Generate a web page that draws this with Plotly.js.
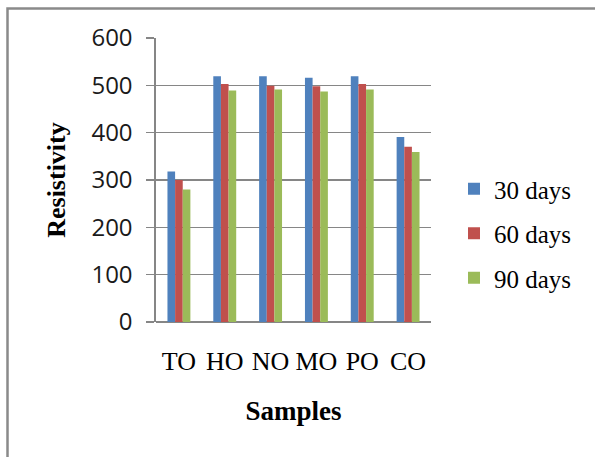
<!DOCTYPE html>
<html>
<head>
<meta charset="utf-8">
<script src="https://cdn.plot.ly/plotly-3.0.1.min.js"></script>
<style>
  html, body { margin: 0; padding: 0; background: #ffffff; }
  #chart { width: 595px; height: 457px; }
</style>
</head>
<body>
<div id="chart"></div>
<script>
const samples = ["TO", "HO", "NO", "MO", "PO", "CO"];
const days30 = [318, 519, 519, 516, 519, 391];
const days60 = [300, 503, 499, 498, 503, 370];
const days90 = [280, 489, 491, 487, 491, 359];
const seriesNames = ["30 days", "60 days", "90 days"];
const seriesColors = ["#4F81BD", "#C0504D", "#9BBB59"];
const yTicks = [0, 100, 200, 300, 400, 500, 600];

const W = 595, H = 457;
const M = { l: 156, r: 164, t: 38, b: 135 };
const pw = W - M.l - M.r, ph = H - M.t - M.b;
const px2x = p => (p - M.l) / pw;
const px2y = p => (H - M.b - p) / ph;

const vals = [days30, days60, days90];
const traces = vals.map((v, i) => ({
  type: "bar",
  x: samples,
  y: v,
  name: seriesNames[i],
  legendgroup: "g" + i,
  marker: { color: seriesColors[i], line: { width: 0 } },
  hoverinfo: "x+y+name"
}));

const layout = {
  width: W, height: H,
  margin: M,
  paper_bgcolor: "#ffffff",
  plot_bgcolor: "#ffffff",
  barmode: "group",
  bargap: 0.5,
  bargroupgap: 0,
  showlegend: true,
  legend: {
    xref: "container", yref: "container",
    x: 454 / W, y: 1 - 166 / H,
    xanchor: "left", yanchor: "top",
    font: { family: "Liberation Serif, Times New Roman, serif", size: 25, color: "#000" },
    tracegroupgap: 9,
    bgcolor: "rgba(0,0,0,0)"
  },
  xaxis: {
    type: "category",
    showgrid: false,
    showline: false,
    ticks: "",
    tickfont: { family: "Liberation Serif, Times New Roman, serif", size: 26, color: "#000" },
    ticklabelstandoff: 21,
    title: {
      text: "Samples",
      font: { family: "Liberation Serif, Times New Roman, serif", size: 27, color: "#000", weight: "bold" },
      standoff: 26
    },
    fixedrange: true
  },
  yaxis: {
    range: [0, 600],
    tickvals: yTicks,
    showgrid: true,
    gridcolor: "#868686",
    gridwidth: 1.6,
    zeroline: true,
    zerolinecolor: "#868686",
    zerolinewidth: 1.6,
    showline: true,
    linecolor: "#868686",
    linewidth: 1.6,
    ticks: "outside",
    ticklen: 8,
    tickcolor: "#868686",
    tickwidth: 1.6,
    tickfont: { family: "Open Sans, sans-serif", size: 24, color: "#1a1a1a" },
    ticklabelstandoff: 9,
    title: {
      text: "Resistivity",
      font: { family: "Liberation Serif, Times New Roman, serif", size: 26, color: "#000", weight: "bold" },
      standoff: 18
    },
    fixedrange: true
  },
  shapes: [{
    type: "rect", xref: "paper", yref: "paper",
    x0: px2x(7.5), x1: px2x(W + 5),
    y0: px2y(H + 5), y1: px2y(8.5),
    line: { color: "#8a8a8a", width: 2.5 },
    fillcolor: "rgba(0,0,0,0)",
    layer: "below"
  }]
};

Plotly.newPlot("chart", traces, layout, { displayModeBar: false, staticPlot: true });
</script>
</body>
</html>
